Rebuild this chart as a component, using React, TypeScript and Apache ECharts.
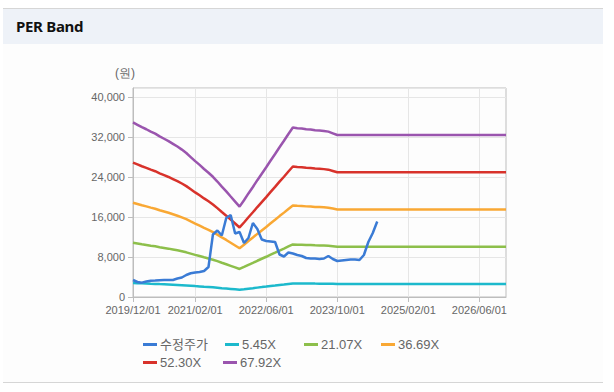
import React, { useEffect, useRef } from "react";
import * as echarts from "echarts";

// Monthly categories 2019/12/01 .. 2026/12/01
const categories: string[] = [];
for (let i = 0; i < 85; i++) {
  const m = (11 + i) % 12;
  const y = 2019 + Math.floor((11 + i) / 12);
  categories.push(`${y}/${String(m + 1).padStart(2, "0")}/01`);
}

// Adjusted price (수정주가), monthly, ends 2024/07
const price: (number | null)[] = [
  3400, 3000, 2870, 3100, 3270, 3300, 3350, 3400, 3400, 3400,
  3700, 3900, 4400, 4750, 4900, 5000, 5200, 6000, 12500, 13300,
  12300, 15800, 16400, 12700, 13000, 10800, 11800, 14800, 13600, 11500,
  11200, 11100, 11000, 8500, 8100, 8900, 8700, 8400, 8200, 7800,
  7700, 7700, 7600, 7700, 8200, 7600, 7200, 7300, 7400, 7500,
  7500, 7400, 8400, 11000, 12800, 15100,
];

// Trailing EPS (원) used to build the PER bands, monthly
const eps: number[] = [
  514, 507, 500, 494, 487, 481, 473, 466, 459, 451,
  443, 434, 424, 412, 400, 389, 377, 366, 354, 340,
  325, 311, 296, 281, 266, 285, 305, 324, 344, 363,
  382, 402, 421, 441, 460, 480, 499, 497, 496, 494,
  493, 491, 490, 489, 487, 482, 477, 477, 477, 477,
  477, 477, 477, 477, 477, 477, 477, 477, 477, 477,
  477, 477, 477, 477, 477, 477, 477, 477, 477, 477,
  477, 477, 477, 477, 477, 477, 477, 477, 477, 477,
  477, 477, 477, 477, 477,
];

const multiples: number[] = [5.45, 21.07, 36.69, 52.3, 67.92];
const bandNames: string[] = ["5.45X", "21.07X", "36.69X", "52.30X", "67.92X"];
const yTicks: number[] = [0, 8000, 16000, 24000, 32000, 40000];

const colors = ["#3a7bd5", "#1cb9cc", "#8dbf4b", "#f9a834", "#d8322b", "#9a55ae"];

const FONT = "'Liberation Sans', Arial, 'Noto Sans CJK KR', sans-serif";

export default function App() {
  const ref = useRef<HTMLDivElement>(null);
  useEffect(() => {
    if (!ref.current) return;
    const chart = echarts.init(ref.current, undefined, { renderer: "svg" });
    const showIdx = (i: number) => i === 0 || (i >= 14 && (i - 14) % 16 === 0);
    const series: any[] = [
      {
        name: "수정주가",
        type: "line",
        data: price,
        showSymbol: false,
        lineStyle: { width: 2.5, color: colors[0] },
        itemStyle: { color: colors[0] },
        z: 10,
      },
      ...multiples.map((mul, k) => ({
        name: bandNames[k],
        type: "line",
        data: eps.map((e) => Math.round(e * mul)),
        showSymbol: false,
        lineStyle: { width: 2.5, color: colors[k + 1] },
        itemStyle: { color: colors[k + 1] },
      })),
    ];
    const legendPos = [
      [138, 333], [220, 333], [299, 333], [376, 333],
      [138, 351], [218, 351],
    ];
    const names = ["수정주가", ...bandNames];
    chart.setOption({
      animation: false,
      textStyle: { fontFamily: FONT },
      grid: { left: 133, right: 108, top: 88, bottom: 95, show: true, borderColor: "#bdbdbd", borderWidth: 1 },
      legend: names.map((n, k) => ({
        data: [n],
        left: legendPos[k][0],
        top: legendPos[k][1],
        icon: "rect",
        itemWidth: 14,
        itemHeight: 3,
        itemGap: 0,
        textStyle: { color: "#666", fontSize: 13, fontFamily: FONT, padding: [0, 0, 0, -2] },
      })),
      graphic: [
        {
          type: "text",
          left: 115,
          top: 67,
          style: { text: "(원)", fontSize: 12, fill: "#666", font: `12px ${FONT}` },
        },
      ],
      xAxis: {
        type: "category",
        data: categories,
        boundaryGap: false,
        axisLine: { lineStyle: { color: "#bdbdbd" } },
        axisTick: { show: true, interval: (i: number) => showIdx(i), length: 5, lineStyle: { color: "#bdbdbd" } },
        axisLabel: { interval: (i: number) => showIdx(i), color: "#666", fontSize: 11, margin: 7, fontFamily: FONT },
        splitLine: { show: true, interval: (i: number) => showIdx(i), lineStyle: { color: "#e6e6e6" } },
      },
      yAxis: {
        type: "value",
        min: yTicks[0],
        max: 41800,
        interval: 8000,
        axisLine: { show: true, lineStyle: { color: "#bdbdbd" } },
        axisTick: { show: true, length: 5, lineStyle: { color: "#bdbdbd" } },
        axisLabel: {
          color: "#666",
          fontSize: 11,
          margin: 8,
          fontFamily: FONT,
          showMaxLabel: false,
          formatter: (v: number) => (yTicks.includes(v) ? v.toLocaleString("en-US") : ""),
        },
        splitLine: { lineStyle: { color: "#e6e6e6" } },
      },
      series,
    });
    return () => chart.dispose();
  }, []);

  return (
    <div style={{ position: "absolute", left: 0, top: 0, width: 614, height: 392, background: "#fff", overflow: "hidden" }}>
      <div style={{ position: "absolute", left: 3, top: 8, width: 600, height: 373, background: "#fdfdfd", borderTop: "1px solid #d6d6d6", borderBottom: "1px solid #d6d6d6" }} />
      <div style={{ position: "absolute", left: 3, top: 9, width: 600, height: 35, background: "#eef2f8" }} />
      <div style={{ position: "absolute", left: 16, top: 16, fontFamily: "'Noto Sans', sans-serif", fontWeight: 700, fontSize: 15, color: "#111", letterSpacing: -0.3 }}>
        PER Band
      </div>
      <div ref={ref} style={{ position: "absolute", left: 0, top: 0, width: 614, height: 392 }} />
    </div>
  );
}
